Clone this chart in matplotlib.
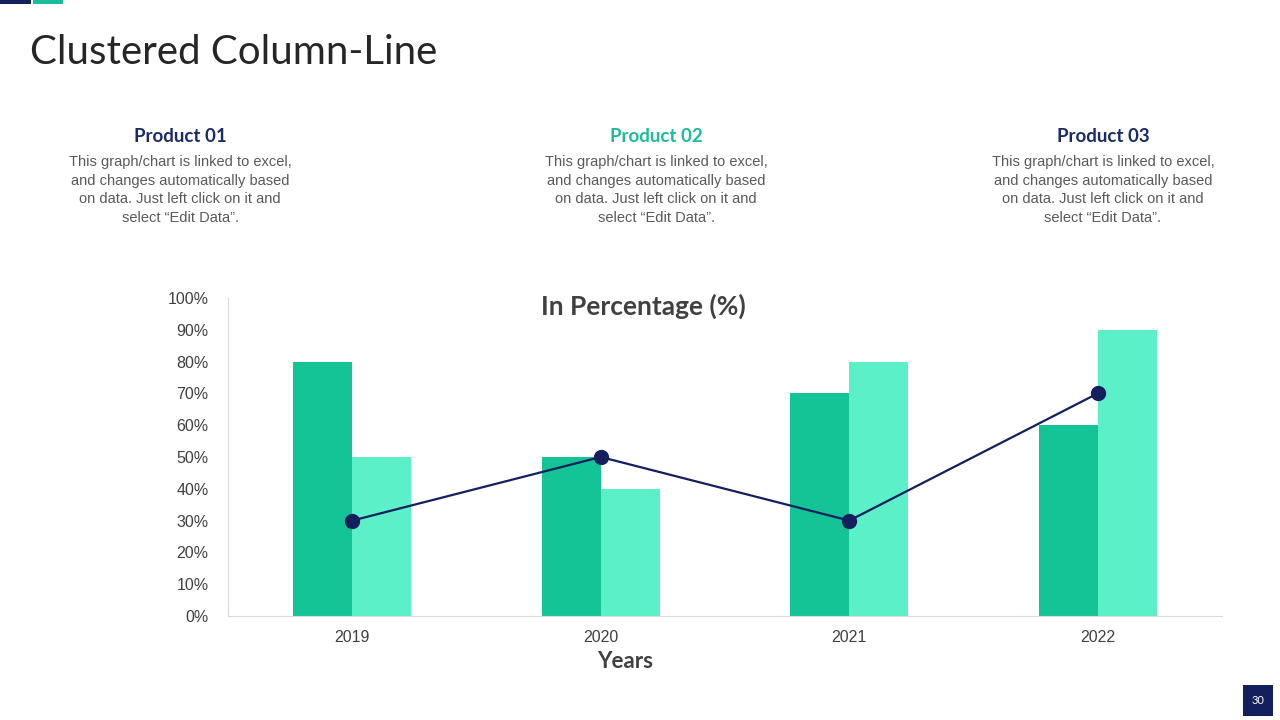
import matplotlib.pyplot as plt
import matplotlib.patches as patches
import numpy as np

years = ['2019', '2020', '2021', '2022']
series1 = [80, 50, 70, 60]
series2 = [50, 40, 80, 90]
line_vals = [30, 50, 30, 70]
yticks = [0, 10, 20, 30, 40, 50, 60, 70, 80, 90, 100]

products = ['Product 01', 'Product 02', 'Product 03']
product_colors = ['#1b2a6b', '#1abc9c', '#1b2a6b']
product_x = [180, 656, 1103]
body = ('This graph/chart is linked to excel,\nand changes automatically based\n'
        'on data. Just left click on it and\nselect \u201cEdit Data\u201d.')

navy = '#141f5e'
green = '#14c497'
mint = '#5cf0c9'
arial = ['Liberation Sans', 'DejaVu Sans']

plt.rcParams['font.family'] = ['Lato', 'DejaVu Sans']

fig = plt.figure(figsize=(12.8, 7.2), dpi=100)

# top-left accent bars
fig.add_artist(patches.Rectangle((0, 716 / 720), 31 / 1280, 4 / 720,
                                 transform=fig.transFigure, color=navy, lw=0))
fig.add_artist(patches.Rectangle((33 / 1280, 716 / 720), 30 / 1280, 4 / 720,
                                 transform=fig.transFigure, color='#1abc9c', lw=0))

fig.text(30 / 1280, 1 - 52 / 720, 'Clustered Column-Line', fontsize=29,
         color='#262626', va='center', ha='left')

for name, col, px in zip(products, product_colors, product_x):
    fig.text(px / 1280, 1 - 137 / 720, name, fontsize=13.5, fontweight='bold',
             color=col, ha='center', va='center')
    fig.text(px / 1280, 1 - 155 / 720, body, fontsize=10.5, color='#595959',
             ha='center', va='top', family=arial, linespacing=1.42)

ax = fig.add_axes([228 / 1280, 104 / 720, 994 / 1280, 318 / 720])
x = np.arange(len(years))
w = 0.237
ax.bar(x - w / 2, series1, width=w, color=green, zorder=2)
ax.bar(x + w / 2, series2, width=w, color=mint, zorder=2)
ax.plot(x, line_vals, color=navy, lw=1.6, marker='o', markersize=10, zorder=3)

ax.set_xlim(-0.5, 3.5)
ax.set_ylim(0, 100)
ax.set_yticks(yticks)
ax.set_yticklabels([f'{v}%' for v in yticks])
ax.set_xticks(x)
ax.set_xticklabels(years)
ax.tick_params(axis='both', length=0, labelsize=11.5, colors='#404040')
ax.tick_params(axis='x', pad=10)
ax.tick_params(axis='y', pad=14)
for lab in ax.get_xticklabels() + ax.get_yticklabels():
    lab.set_fontfamily(arial)
for s in ['top', 'right']:
    ax.spines[s].set_visible(False)
ax.spines['left'].set_color('#d9d9d9')
ax.spines['bottom'].set_color('#d9d9d9')

fig.text(643 / 1280, 1 - 306 / 720, 'In Percentage (%)', fontsize=19,
         fontweight='bold', color='#404040', ha='center', va='center')
fig.text(625 / 1280, 1 - 661 / 720, 'Years', fontsize=16,
         fontweight='bold', color='#404040', ha='center', va='center')

# page number box
fig.add_artist(patches.Rectangle((1243 / 1280, 4 / 720), 30 / 1280, 31 / 720,
                                 transform=fig.transFigure, color=navy, lw=0))
fig.text(1258 / 1280, 1 - 700 / 720, '30', fontsize=8, color='white',
         ha='center', va='center')

fig.savefig('out.png', dpi=100)
